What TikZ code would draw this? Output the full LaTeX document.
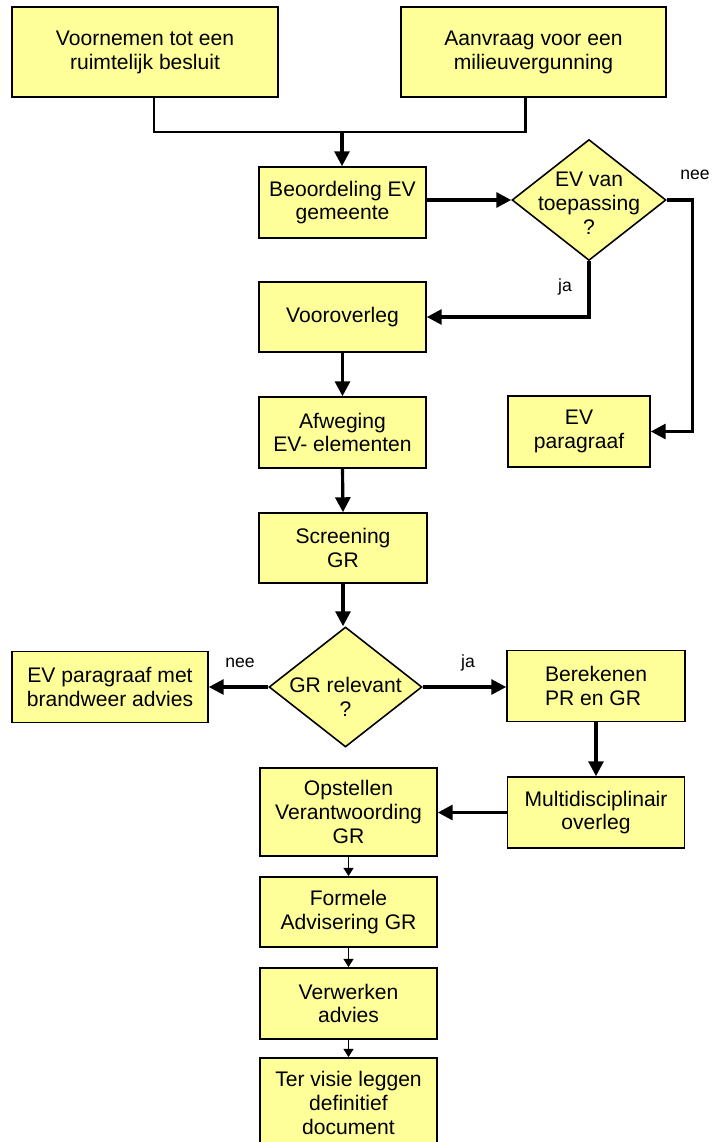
\documentclass[tikz,border=0pt]{standalone}
\usepackage{fontspec}
\setmainfont{Liberation Sans}
\usetikzlibrary{shapes.geometric,arrows.meta}
\definecolor{boxgeel}{HTML}{FFFF99}
\begin{document}
\begin{tikzpicture}[x=0.02cm,y=-0.02cm,
        stap/.style={draw,fill=boxgeel,line width=0.9pt,align=center,inner sep=0pt,font=\fontsize{12pt}{13.6pt}\selectfont},
        keuze/.style={draw,fill=boxgeel,line width=0.9pt,diamond,inner sep=0pt},
        keuzetekst/.style={align=center,font=\fontsize{12pt}{13.6pt}\selectfont},
        pijl/.style={line width=1.8pt,-{Triangle[length=8.5pt,width=8.5pt]}},
        lijn/.style={line width=1.6pt},
        dunpijl/.style={line width=1.1pt,-{Triangle[length=4.8pt,width=5.6pt]}},
        antwoord/.style={font=\fontsize{10pt}{12pt}\selectfont}]
        \useasboundingbox (0,0) rectangle (713,1142);
        \node[stap,minimum width=5.32cm,minimum height=1.8cm] (voornemen) at (145,52) {Voornemen tot een\\ruimtelijk besluit};
        \node[stap,minimum width=5.3cm,minimum height=1.8cm] (aanvraag) at (533.5,52) {Aanvraag voor een\\milieuvergunning};
        \node[stap,minimum width=3.34cm,minimum height=1.42cm] (beoordeling) at (342.5,202.5) {Beoordeling EV\\gemeente};
        \node[keuze,minimum width=3.08cm,minimum height=2.42cm,
            label={[keuzetekst,yshift=-0.06cm]center:{EV van\\toepassing\\?}}] (evvraag) at (589,200) {};
        \node[stap,minimum width=3.34cm,minimum height=1.4cm] (vooroverleg) at (342.5,317) {Vooroverleg};
        \node[stap,minimum width=3.34cm,minimum height=1.42cm] (afweging) at (342.5,432.5) {Afweging\\EV- elementen};
        \node[stap,minimum width=3.36cm,minimum height=1.4cm] (screening) at (343,548) {Screening\\GR};
        \node[stap,minimum width=2.84cm,minimum height=1.42cm] (evpar) at (579,431.5) {EV\\paragraaf};
        \node[keuze,minimum width=3.06cm,minimum height=2.4cm,
            label={[keuzetekst,yshift=-0.2cm]center:{GR relevant\\?}}] (grvraag) at (345.5,687) {};
        \node[stap,minimum width=3.92cm,minimum height=1.42cm] (evparbrand) at (110,687) {EV paragraaf met\\brandweer advies};
        \node[stap,align=left,minimum width=3.56cm,minimum height=1.42cm] (berekenen) at (596,686) {Berekenen\\PR en GR};
        \node[stap,minimum width=3.54cm,minimum height=1.42cm] (multi) at (596,812.5) {Multidisciplinair\\overleg};
        \node[stap,minimum width=3.54cm,minimum height=1.76cm] (opstellen) at (348.5,812) {Opstellen\\Verantwoording\\GR};
        \node[stap,minimum width=3.54cm,minimum height=1.4cm] (formele) at (348.5,912) {Formele\\Advisering GR};
        \node[stap,minimum width=3.54cm,minimum height=1.42cm] (verwerken) at (348.5,1003.5) {Verwerken\\advies};
        \node[stap,minimum width=3.54cm,minimum height=1.8cm] (tervisie) at (348.5,1103) {Ter visie leggen\\definitief\\document};
        \coordinate (samen) at (342,132);
        \draw[lijn] ([xshift=0.18cm]voornemen.south) |- (samen) -| ([xshift=-0.16cm]aanvraag.south);
        \draw[pijl] (samen) -- (samen |- beoordeling.north);
        \draw[pijl] (beoordeling.east |- evvraag.west) -- (evvraag.west);
        \draw[pijl] (evvraag.east) -- ++(26,0) |- (evpar.east);
        \draw[pijl] (evvraag.south) |- (vooroverleg.east);
        \node[antwoord] (neeEV) at (695,175) {nee};
        \node[antwoord] (jaEV) at (565,287) {ja};
        \foreach \van/\naar in {vooroverleg/afweging,afweging/screening}
            \draw[pijl] (\van.south) -- (\naar.north);
        \draw[pijl] (screening.south) -- (screening.south |- grvraag.north);
        \draw[pijl] (grvraag.west) -- (evparbrand.east |- grvraag.west);
        \draw[pijl] (grvraag.east) -- (berekenen.west |- grvraag.east);
        \node[antwoord] (neeGR) at (240,663) {nee};
        \node[antwoord] (jaGR) at (468,663) {ja};
        \draw[pijl] (berekenen.south) -- (multi.north);
        \draw[pijl] (multi.west) -- (opstellen.east |- multi.west);
        \foreach \van/\naar in {opstellen/formele,formele/verwerken,verwerken/tervisie}
            \draw[dunpijl] (\van.south) -- (\naar.north);
\end{tikzpicture}
\end{document}
